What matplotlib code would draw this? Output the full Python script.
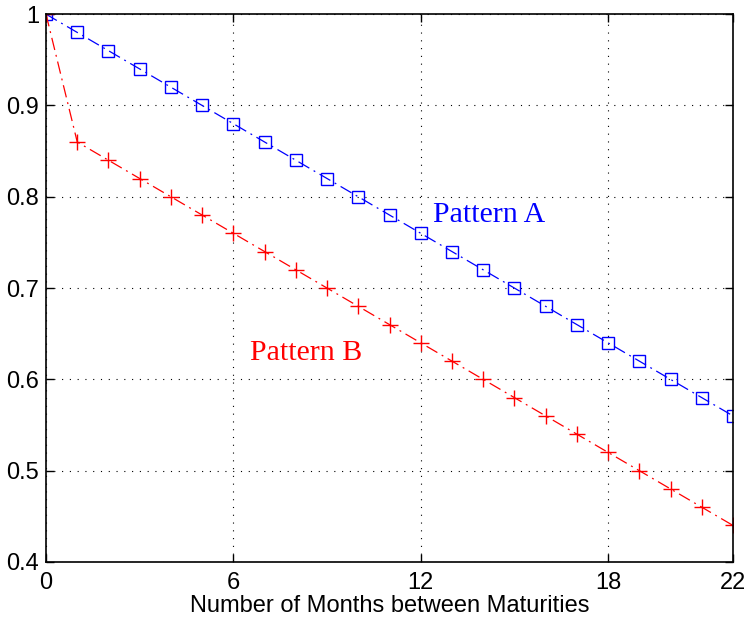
import matplotlib
matplotlib.use("Agg")
import matplotlib.pyplot as plt

months = list(range(0, 23))
pattern_a = [1.00, 0.98, 0.96, 0.94, 0.92, 0.90, 0.88, 0.86, 0.84, 0.82, 0.80, 0.78,
             0.76, 0.74, 0.72, 0.70, 0.68, 0.66, 0.64, 0.62, 0.60, 0.58, 0.56]
pattern_b = [1.00, 0.86, 0.84, 0.82, 0.80, 0.78, 0.76, 0.74, 0.72, 0.70, 0.68, 0.66,
             0.64, 0.62, 0.60, 0.58, 0.56, 0.54, 0.52, 0.50, 0.48, 0.46, 0.44]
xticks = [0, 6, 12, 18, 22]
yticks = [0.4, 0.5, 0.6, 0.7, 0.8, 0.9, 1.0]
ytick_labels = ['0.4', '0.5', '0.6', '0.7', '0.8', '0.9', '1']

plt.rcParams['font.family'] = ['Liberation Sans', 'DejaVu Sans']

fig = plt.figure(figsize=(7.47, 6.19), dpi=100)
ax = fig.add_axes([0.0616, 0.0921, 0.9197, 0.885])

dashdot = (0, (10, 4, 1.5, 4))
ax.plot(months, pattern_a, color='blue', linestyle=dashdot, linewidth=0.9,
        marker='s', markersize=8, markerfacecolor='none', markeredgewidth=1.0)
ax.plot(months, pattern_b, color='red', linestyle=dashdot, linewidth=0.9,
        marker='+', markersize=12, markeredgewidth=1.0)

ax.text(12.39, 0.78, 'Pattern A', color='blue', fontsize=21.5,
        family='Liberation Serif', va='center', ha='left')
ax.text(6.53, 0.629, 'Pattern B', color='red', fontsize=21.5,
        family='Liberation Serif', va='center', ha='left')

ax.set_xlim(0, 22)
ax.set_ylim(0.4, 1.0)
ax.set_xticks(xticks)
ax.set_yticks(yticks)
ax.set_yticklabels(ytick_labels)
ax.tick_params(direction='in', top=True, right=True, labelsize=17, length=6,
               width=1)
ax.tick_params(axis='x', pad=7)
ax.tick_params(axis='y', pad=5)
ax.grid(True, linestyle=(0, (1, 6)), color='black', linewidth=0.8)
for s in ax.spines.values():
    s.set_linewidth(1.2)
ax.set_xlabel('Number of Months between Maturities', fontsize=17, labelpad=1)

fig.savefig('out.png', dpi=100)
